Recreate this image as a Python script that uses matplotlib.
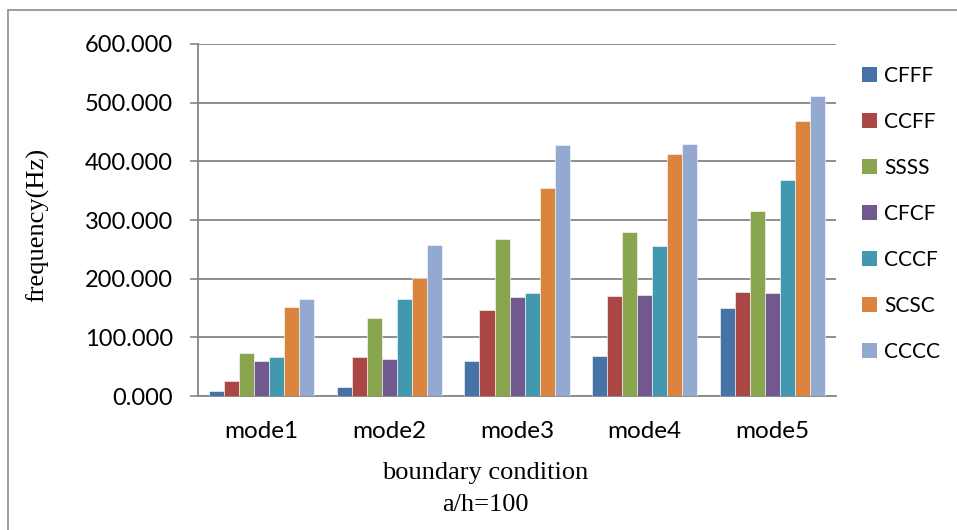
import numpy as np
import matplotlib.pyplot as plt
from matplotlib.patches import Patch

# Natural frequencies per mode for each boundary condition (a/h = 100)
modes = ['mode1', 'mode2', 'mode3', 'mode4', 'mode5']
series_names = ['CFFF', 'CCFF', 'SSSS', 'CFCF', 'CCCF', 'SCSC', 'CCCC']
cfff = [8.5, 14.8, 59.0, 67.6, 149.4]
ccff = [26.0, 67.0, 146.5, 170.0, 177.0]
ssss = [72.7, 133.0, 267.0, 279.0, 316.0]
cfcf = [60.0, 63.6, 169.0, 171.5, 176.0]
cccf = [66.0, 165.0, 175.5, 255.5, 368.0]
scsc = [151.0, 202.0, 354.0, 413.0, 469.0]
cccc = [166.0, 258.0, 427.0, 429.0, 510.6]
yticks = [0, 100, 200, 300, 400, 500, 600]

colors = ['#4572A7', '#AA4643', '#89A54E', '#71588F', '#4198AF', '#DB843D', '#93A9CF']

fig = plt.figure(figsize=(9.57, 5.30), dpi=100)
ax = fig.add_axes([0.2069, 0.2528, 0.6667, 0.6642])

# outer chart frame (left and top edges visible)
frame = plt.Rectangle((8 / 957, -0.1), 1.2, 1.1 - 10 / 530, transform=fig.transFigure,
                      fill=False, edgecolor='#8c8c8c', linewidth=1.2)
fig.patches.append(frame)

all_series = [cfff, ccff, ssss, cfcf, cccf, scsc, cccc]
x = np.arange(len(modes))
width = 1 / 8.5
for i, vals in enumerate(all_series):
    offset = (i - 3) * width
    ax.bar(x + offset, vals, width, color=colors[i], edgecolor='white', linewidth=0.4,
           label=series_names[i], zorder=3)

ax.set_xlim(-0.5, len(modes) - 0.5)
ax.set_ylim(0, 600)
ax.set_yticks(yticks)
ax.set_yticklabels(['%.3f' % v for v in yticks], fontsize=17, family='Lato')
ax.set_xticks(x)
ax.set_xticklabels(modes, fontsize=17.5, family='Lato')
ax.tick_params(axis='y', length=6, width=1.2, color='#868686', pad=12)
ax.tick_params(axis='x', length=0, pad=18)
ax.grid(axis='y', color='#868686', linewidth=1.3, zorder=0)

for side in ['top', 'right']:
    ax.spines[side].set_visible(False)
for side in ['left', 'bottom']:
    ax.spines[side].set_color('#868686')
    ax.spines[side].set_linewidth(1.3)

fig.text(38 / 957, 1 - 225 / 530, 'frequency(Hz)', rotation=90, ha='center', va='center',
         fontsize=19, family='Liberation Serif')
fig.text(485 / 957, 1 - 473 / 530, 'boundary condition', ha='center', va='center',
         fontsize=19, family='Liberation Serif')
fig.text(485 / 957, 1 - 505 / 530, 'a/h=100', ha='center', va='center',
         fontsize=19, family='Liberation Serif')

handles = [Patch(facecolor=c, edgecolor='none') for c in colors]
fig.legend(handles, series_names, loc='upper left', bbox_to_anchor=(843 / 957, 1 - 47 / 530),
           frameon=False, prop={'family': 'Lato', 'size': 15},
           handlelength=0.72, handleheight=0.72, handletextpad=0.35, labelspacing=1.25)

fig.savefig('out.png', dpi=100)
